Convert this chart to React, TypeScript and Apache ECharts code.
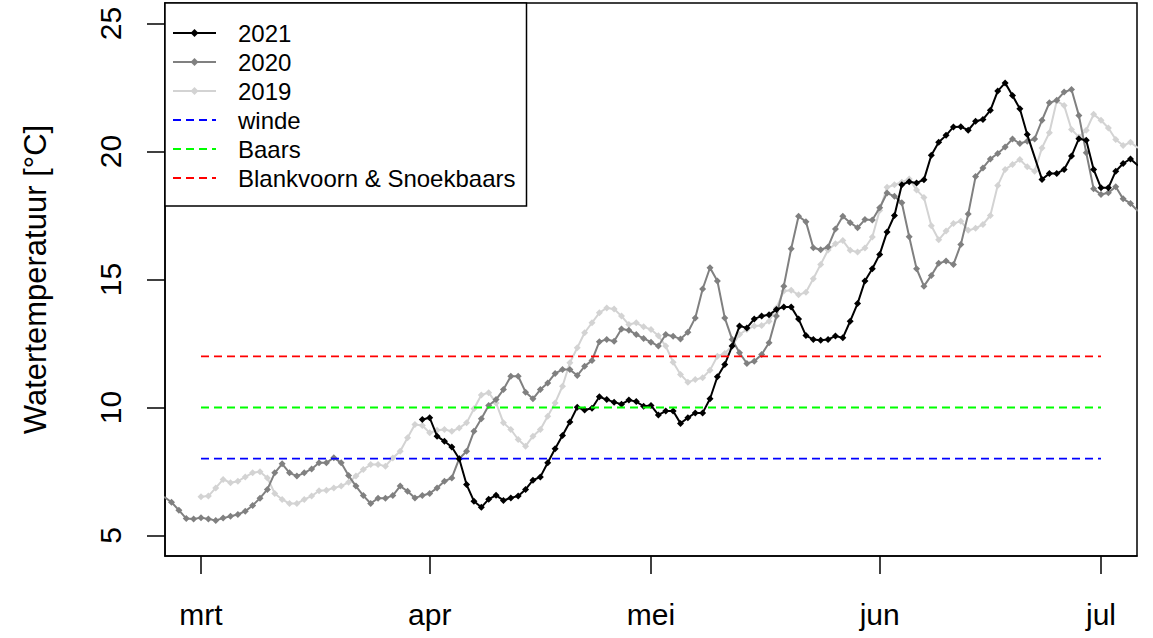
import React, { useEffect, useRef } from "react";
import * as echarts from "echarts";

// x = day offset from 1 March (0 = 1 mrt)
const monthTicks = [0, 31, 61, 92, 122];
const monthLabels = ["mrt", "apr", "mei", "jun", "jul"];
const yTicks = [5, 10, 15, 20, 25];

const start2021 = 30;
const temp2021: (number | null)[] = [
  9.53, 9.6, 8.88, 8.68, 8.46, 8.0, 6.99, 6.34, 6.1, 6.42,
  6.57, 6.37, 6.47, 6.54, 6.8, 7.16, 7.29, 7.84, 8.39, 8.91,
  9.43, 10.01, 9.9, 9.97, 10.42, 10.31, 10.21, 10.13, 10.29, 10.23,
  10.05, 10.08, 9.71, 9.86, 9.86, 9.38, 9.6, 9.79, 9.79, 10.34,
  11.2, 11.68, 12.4, 13.18, 13.11, 13.46, 13.57, 13.62, 13.83, 13.93,
  13.93, 13.46, 12.81, 12.66, 12.63, 12.66, 12.79, 12.72, 13.37, 14.06,
  14.94, 15.42, 15.98, 16.86, 17.5, 18.7, 18.82, 18.77, 18.9, 19.85,
  20.36, 20.63, 20.96, 20.97, 20.83, 21.18, 21.25, 21.61, 22.36, 22.68,
  22.19, 21.67, 20.66, null, 18.91, 19.14, 19.14, 19.3, 19.82, 20.5,
  20.44, 19.3, 18.58, 18.58, 19.23, 19.53, 19.71, 19.45,
];

const start2020 = -5;
const temp2020: number[] = [
  6.51, 6.3, 5.99, 5.66, 5.65,
  5.69, 5.65, 5.59, 5.68, 5.75, 5.82, 5.95, 6.17, 6.46, 6.8,
  7.45, 7.8, 7.45, 7.32, 7.45, 7.6, 7.84, 7.84, 8.04, 7.84,
  7.34, 6.93, 6.56, 6.25, 6.46, 6.46, 6.56, 6.93, 6.73, 6.47,
  6.56, 6.64, 6.86, 7.12, 7.25, 8.0, 8.29, 9.07, 9.56, 10.08,
  10.31, 10.7, 11.22, 11.22, 10.6, 10.34, 10.7, 10.96, 11.33, 11.48,
  11.48, 11.25, 11.61, 11.84, 12.57, 12.66, 12.59, 13.07, 13.02, 12.85,
  12.7, 12.55, 12.4, 12.85, 12.78, 12.68, 12.94, 13.5, 14.63, 15.46,
  14.94, 13.5, 12.66, 12.14, 11.72, 11.81, 12.07, 12.53, 13.57, 14.74,
  16.2, 17.47, 17.26, 16.24, 16.16, 16.27, 16.97, 17.47, 17.22, 17.02,
  17.34, 17.32, 17.8, 18.38, 18.25, 18.0, 16.67, 15.42, 14.74, 15.16,
  15.63, 15.72, 15.59, 16.37, 17.56, 19.02, 19.36, 19.71, 19.92, 20.18,
  20.49, 20.31, 20.4, 20.49, 21.22, 21.9, 22.0, 22.32, 22.42, 21.41,
  19.95, 18.54, 18.32, 18.39, 18.62, 18.15, 17.97, 17.67,
];

const start2019 = 0;
const temp2019: number[] = [
  6.51, 6.54, 6.86, 7.19, 7.06, 7.12, 7.29, 7.45, 7.49, 7.25,
  6.64, 6.41, 6.25, 6.25, 6.41, 6.54, 6.75, 6.77, 6.86, 6.93,
  7.08, 7.32, 7.58, 7.77, 7.77, 7.71, 8.03, 8.29, 8.82, 9.34,
  9.3, 9.01, 9.11, 9.14, 9.07, 9.2, 9.4, 9.95, 10.49, 10.58,
  10.18, 9.4, 9.14, 8.75, 8.49, 8.88, 9.14, 9.66, 10.18, 10.83,
  11.75, 12.33, 12.92, 13.31, 13.7, 13.89, 13.85, 13.57, 13.24, 13.31,
  13.15, 13.05, 12.8, 12.4, 11.77, 11.29, 10.99, 11.09, 11.16, 11.46,
  12.0, 12.11, 12.4, 12.85, 13.05, 13.18, 13.2, 13.37, 13.89, 14.55,
  14.58, 14.4, 14.5, 15.03, 15.59, 16.15, 16.4, 16.52, 16.14, 16.07,
  16.23, 16.66, 17.7, 18.6, 18.7, 18.8, 18.93, 18.5, 18.2, 17.1,
  16.55, 16.89, 17.19, 17.28, 16.92, 17.0, 17.15, 17.5, 18.67, 19.3,
  19.49, 19.69, 19.4, 19.23, 20.14, 20.73, 21.97, 21.8, 20.86, 20.57,
  20.83, 21.45, 21.22, 20.92, 20.47, 20.23, 20.36, 20.14,
];

const thresholdNames = ["winde", "Baars", "Blankvoorn & Snoekbaars"];
const thresholdValues = [8, 10, 12];
const thresholdColors = ["#0000ff", "#00ff00", "#ff0000"];
const thresholdRange = [0, 122];

const FONT = "'Liberation Sans', Arial, sans-serif";

function toPairs(start: number, values: (number | null)[]) {
  const out: [number, number][] = [];
  values.forEach((v, i) => {
    if (v !== null) out.push([start + i, v]);
  });
  return out;
}

export default function App() {
  const ref = useRef<HTMLDivElement>(null);
  useEffect(() => {
    if (!ref.current) return;
    const chart = echarts.init(ref.current, undefined, { renderer: "svg" });
    const yearSeries = (name: string, color: string, start: number, vals: (number | null)[], z: number) => ({
      type: "line",
      name,
      data: toPairs(start, vals),
      symbol: "diamond",
      symbolSize: 7,
      showSymbol: true,
      itemStyle: { color },
      lineStyle: { color, width: 2 },
      z,
    });
    const thresholdSeries = thresholdNames.map((name, i) => ({
      type: "line",
      name,
      data: thresholdRange.map((d) => [d, thresholdValues[i]]),
      symbol: "none",
      itemStyle: { color: thresholdColors[i] },
      lineStyle: { color: thresholdColors[i], width: 1.8, type: [8, 5] },
      z: 5,
    }));
    chart.setOption({
      animation: false,
      backgroundColor: "#ffffff",
      textStyle: { fontFamily: FONT },
      grid: {
        left: 165,
        top: 3,
        right: 16,
        bottom: 82,
        show: true,
        borderColor: "#000",
        borderWidth: 1.5,
      },
      legend: {
        left: 165,
        top: 3,
        orient: "vertical",
        data: [
          { name: "2021" },
          { name: "2020" },
          { name: "2019" },
          ...thresholdNames.map((n) => ({ name: n, itemStyle: { opacity: 0 } })),
        ],
        backgroundColor: "#ffffff",
        borderColor: "#000",
        borderWidth: 1.5,
        borderRadius: 0,
        padding: [18, 11, 16, 7],
        itemWidth: 43,
        itemHeight: 10,
        itemGap: 5,
        textStyle: {
          fontFamily: FONT,
          fontSize: 24,
          color: "#000",
          lineHeight: 24,
          padding: [0, 0, 0, 17],
        },
        z: 20,
      },
      xAxis: {
        type: "value",
        min: -4.88,
        max: 126.88,
        splitLine: { show: false },
        axisLine: { show: true, onZero: false, lineStyle: { color: "#000", width: 1.5 } },
        axisTick: {
          show: true,
          customValues: monthTicks,
          length: 18,
          lineStyle: { color: "#000", width: 1.5 },
        },
        axisLabel: {
          customValues: monthTicks,
          formatter: (v: number) => monthLabels[monthTicks.indexOf(v)] ?? "",
          fontFamily: FONT,
          fontSize: 30,
          color: "#000",
          margin: 43,
        },
      },
      yAxis: {
        type: "value",
        min: 4.2,
        max: 25.8,
        name: "Watertemperatuur [°C]",
        nameLocation: "middle",
        nameGap: 114,
        nameTextStyle: { fontFamily: FONT, fontSize: 31, color: "#000" },
        splitLine: { show: false },
        axisLine: { show: true, onZero: false, lineStyle: { color: "#000", width: 1.5 } },
        axisTick: {
          show: true,
          customValues: yTicks,
          length: 18,
          lineStyle: { color: "#000", width: 1.5 },
        },
        axisLabel: {
          customValues: yTicks,
          rotate: 90,
          fontFamily: FONT,
          fontSize: 30,
          color: "#000",
          margin: 40,
        },
      },
      series: [
        yearSeries("2019", "#d3d3d3", start2019, temp2019, 2),
        yearSeries("2020", "#808080", start2020, temp2020, 3),
        yearSeries("2021", "#000000", start2021, temp2021, 4),
        ...thresholdSeries,
      ],
    });
    return () => chart.dispose();
  }, []);
  return (
    <div
      ref={ref}
      style={{ position: "fixed", left: 0, top: 0, width: 1153, height: 638, background: "#fff" }}
    />
  );
}
